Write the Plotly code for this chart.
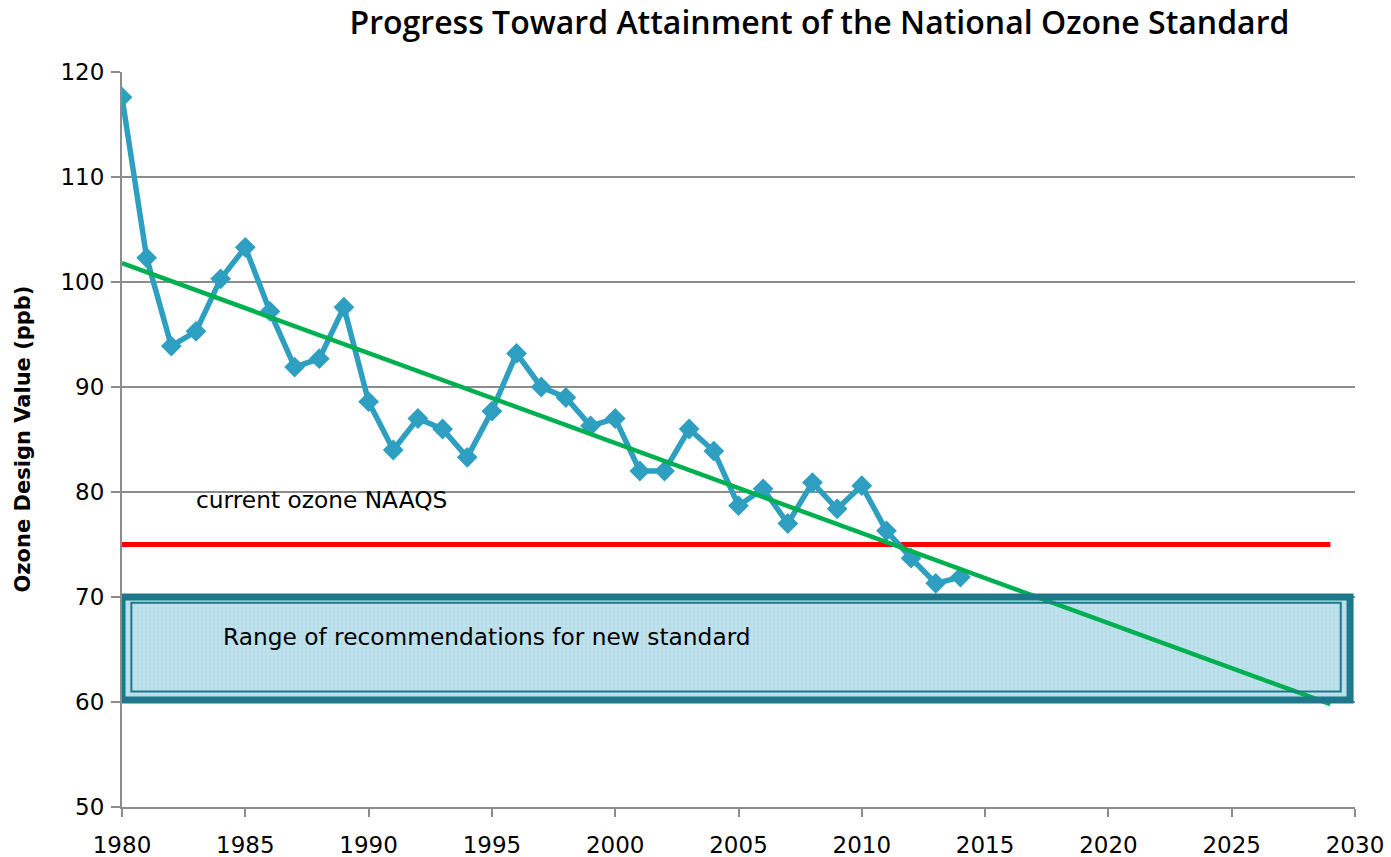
import plotly.graph_objects as go

years = list(range(1980, 2015))
design_values = [117.6, 102.3, 93.9, 95.3, 100.3, 103.3, 97.2, 91.9, 92.7, 97.6,
                 88.6, 84.0, 87.0, 86.0, 83.3, 87.7, 93.2, 90.0, 89.0, 86.3,
                 87.0, 82.0, 82.0, 86.0, 83.9, 78.7, 80.3, 77.0, 80.9, 78.4,
                 80.6, 76.3, 73.7, 71.3, 71.9]
trend_years = [1980, 2029]
trend_values = [101.8, 59.8]
naaqs_years = [1980, 2029]
naaqs_level = 75
range_years = [1980, 2029.8]
range_low, range_high = 60.2, 70.0

TEAL = "#2E9FC0"
GREEN = "#00B050"
RED = "#FF0000"
BOX = "#1E788B"
FONT = "DejaVu Sans"

W, H = 1391, 857
ML, MR, MT, MB = 122, 36, 72, 50
plot_w = W - ML - MR

fig = go.Figure()

fig.add_trace(go.Scatter(
    x=[range_years[0], range_years[1], range_years[1], range_years[0], range_years[0]],
    y=[range_low, range_low, range_high, range_high, range_low],
    fill="toself", mode="none",
    fillcolor="#B9DFEA",
    fillpattern=dict(shape="+", fgcolor="#E6F4F8", bgcolor="#B3DCE8", size=4, solidity=0.3),
    hoverinfo="skip", showlegend=False))

fig.add_shape(type="rect", xref="x", yref="y",
              x0=range_years[0], x1=range_years[1], y0=range_low, y1=range_high,
              line=dict(color=BOX, width=7), layer="above")
fig.add_shape(type="rect", xref="x", yref="y",
              x0=range_years[0] + 0.38, x1=range_years[1] - 0.38,
              y0=range_low + 0.8, y1=range_high - 0.55,
              line=dict(color=BOX, width=2), layer="above")

fig.add_trace(go.Scatter(x=naaqs_years, y=[naaqs_level] * 2, mode="lines",
                         line=dict(color=RED, width=5), showlegend=False, hoverinfo="skip"))
fig.add_trace(go.Scatter(x=years, y=design_values, mode="lines+markers",
                         line=dict(color=TEAL, width=5.5),
                         marker=dict(symbol="diamond", size=16, color=TEAL),
                         showlegend=False))
fig.add_trace(go.Scatter(x=trend_years, y=trend_values, mode="lines",
                         line=dict(color=GREEN, width=4.5), showlegend=False, hoverinfo="skip"))

fig.add_annotation(x=1982.9, y=79.3, text="current ozone NAAQS", showarrow=False,
                   xanchor="left", yanchor="middle", font=dict(family=FONT, size=23.3, color="black"))
fig.add_annotation(x=1984.0, y=66.2, text="Range of recommendations for new standard", showarrow=False,
                   xanchor="left", yanchor="middle", font=dict(family=FONT, size=23.3, color="black"))
fig.add_annotation(xref="paper", yref="paper", x=(22 - ML) / plot_w, y=0.5,
                   text="<b>Ozone Design Value (ppb)</b>", textangle=-90, showarrow=False,
                   xanchor="center", yanchor="middle", font=dict(family=FONT, size=21, color="black"))

fig.update_layout(
    width=W, height=H,
    margin=dict(l=ML, r=MR, t=MT, b=MB),
    paper_bgcolor="white", plot_bgcolor="white",
    title=dict(text="Progress Toward Attainment of the National Ozone Standard",
               x=819.5 / W, xref="container", xanchor="center", y=1 - 23 / H, yref="container",
               yanchor="middle",
               font=dict(family="Open Sans", size=32, color="black", weight=600)),
    font=dict(family=FONT, color="black"),
)
fig.update_xaxes(range=[1980, 2030], tickmode="linear", tick0=1980, dtick=5,
                 automargin=False,
                 showgrid=False, showline=True, linecolor="#8C8C8C", linewidth=2,
                 ticks="outside", ticklen=8, tickcolor="#8C8C8C", tickwidth=2,
                 ticklabelstandoff=8,
                 tickfont=dict(family=FONT, size=23, color="black"), zeroline=False)
fig.update_yaxes(range=[50, 120], tickmode="linear", tick0=50, dtick=10,
                 automargin=False,
                 showgrid=True, gridcolor="#8C8C8C", gridwidth=1.5,
                 showline=True, linecolor="#8C8C8C", linewidth=2,
                 ticks="outside", ticklen=9, tickcolor="#8C8C8C", tickwidth=2,
                 ticklabelstandoff=2,
                 tickfont=dict(family=FONT, size=23, color="black"), zeroline=False)

fig.write_html("out.html", config={"displayModeBar": False},
               post_script="document.body.style.margin='0';document.body.style.overflow='hidden';")
